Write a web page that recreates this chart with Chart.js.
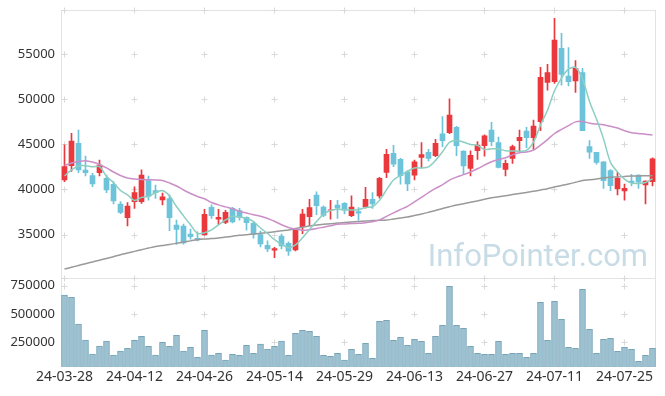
<!DOCTYPE html>
<html>
<head>
<meta charset="utf-8">
<script src="https://cdn.jsdelivr.net/npm/chart.js@4.4.1/dist/chart.umd.min.js"></script>
<style>
  html, body { margin: 0; padding: 0; background: #fff; }
</style>
</head>
<body>
<canvas id="chart" width="665" height="396"></canvas>
<script>
// ===== DATA =====
const dates = [
  '24-03-28','24-03-29','24-04-01','24-04-02','24-04-03','24-04-04','24-04-05','24-04-08','24-04-09','24-04-11',
  '24-04-12','24-04-15','24-04-16','24-04-17','24-04-18','24-04-19','24-04-22','24-04-23','24-04-24','24-04-25',
  '24-04-26','24-04-29','24-04-30','24-05-02','24-05-03','24-05-07','24-05-08','24-05-09','24-05-10','24-05-13',
  '24-05-14','24-05-16','24-05-17','24-05-20','24-05-21','24-05-22','24-05-23','24-05-24','24-05-27','24-05-28',
  '24-05-29','24-05-30','24-05-31','24-06-03','24-06-04','24-06-05','24-06-07','24-06-10','24-06-11','24-06-12',
  '24-06-13','24-06-14','24-06-17','24-06-18','24-06-19','24-06-20','24-06-21','24-06-24','24-06-25','24-06-26',
  '24-06-27','24-06-28','24-07-01','24-07-02','24-07-03','24-07-04','24-07-05','24-07-08','24-07-09','24-07-10',
  '24-07-11','24-07-12','24-07-15','24-07-16','24-07-17','24-07-18','24-07-19','24-07-22','24-07-23','24-07-24',
  '24-07-25','24-07-26','24-07-29','24-07-30','24-07-31'
];

const open = [
  41050,42640,45130,42160,41530,41870,41240,40580,38390,36870,
  38650,38650,40980,39870,38840,38980,36060,35950,35060,34590,
  35000,38020,36700,36360,37900,37650,36910,36260,35000,33800,
  33270,34830,34030,33290,35870,36980,39390,38060,37700,38280,
  38470,37090,37560,38060,38910,39280,41900,44000,43340,41950,
  41600,43550,44110,43750,46160,46290,46900,44250,42330,44300,
  44860,46600,45200,42220,43450,45420,46490,45740,47510,51880,
  51950,55650,52580,52030,52950,44760,44130,43080,42090,40060,
  39830,40940,41610,40500,40870
];
const high = [
  44940,46240,46600,43700,41800,43270,41600,40870,38650,38540,
  40300,42170,41500,40500,39600,39400,36600,36170,35600,35300,
  37800,38300,37800,37700,38020,37920,36980,36420,35400,34300,
  33600,35050,34200,35650,37800,38900,39750,38200,38800,38800,
  38540,39300,38000,40240,39650,41350,44450,44890,43450,42090,
  43270,45200,44450,45570,48090,50040,47000,44300,44300,45300,
  46050,47460,45800,43270,44930,46600,46900,47700,53550,53880,
  58980,57300,55720,54280,53440,45420,44130,43080,42200,41900,
  40600,41680,41620,40950,43500
];
const low = [
  40870,42000,41860,41500,40310,41500,39650,38390,37330,35950,
  37900,38470,38830,39000,38300,35430,33900,33950,34480,34300,
  34950,36800,36100,36200,36300,36600,35500,34600,33630,33100,
  32450,33400,32700,33180,35100,36000,37200,37000,36700,36800,
  37300,36980,36600,37920,37900,39050,41300,42530,40580,39870,
  41050,42400,43160,43640,44760,46200,43760,41700,41500,43340,
  43700,44850,42400,41500,42900,44300,44650,44450,46520,51000,
  51770,51580,51470,50770,46520,43450,42800,40130,39870,39390,
  38830,40390,40130,38390,40400
];
const close = [
  42530,45380,42160,41870,40610,42720,39950,38720,37470,38170,
  39650,41610,39250,39650,39200,36870,35580,34090,34760,34400,
  37250,37090,36920,37470,36400,36910,36320,35050,33970,33400,
  33450,33750,33150,35600,37280,37990,38200,37140,37750,37920,
  37720,38060,37370,38910,38390,41240,43900,42810,41520,40610,
  43080,43880,43440,45130,45420,48250,44860,42620,43800,44930,
  45940,45310,42440,42900,44760,45790,45740,47030,52440,52950,
  56570,52770,51950,53440,46520,44130,43000,40980,40420,41240,
  40130,40760,40800,40940,43400
];
const volume = [
  668000,647000,412000,270000,147000,217000,261000,138000,173000,197000,
  267000,303000,215000,138000,250000,215000,312000,173000,206000,117000,
  356000,138000,153000,94000,144000,135000,223000,153000,235000,191000,
  215000,261000,135000,329000,356000,347000,303000,135000,126000,153000,
  94000,188000,144000,241000,109000,435000,444000,267000,294000,223000,
  276000,259000,153000,303000,400000,745000,400000,374000,215000,153000,
  144000,144000,259000,144000,153000,153000,117000,153000,603000,267000,
  612000,453000,206000,197000,718000,365000,153000,276000,285000,170000,
  206000,188000,82000,135000,197000
];
const ma5 = [
  41500,42165,42610,42640,42510,42548,41462,40774,39894,39406,
  38792,39124,39230,39666,39872,39316,38110,37078,36100,35140,
  35216,35518,36084,36626,37026,36958,36804,36430,35730,35130,
  34438,33924,33544,33870,34646,35554,36444,37242,37672,37800,
  37746,37718,37764,37996,38090,38794,39962,41050,41572,42016,
  42384,42380,42506,43228,44190,45224,45420,45256,44990,44892,
  44430,44520,44484,44304,44270,44240,44326,45244,47152,48790,
  50946,52352,53336,53536,52250,49762,47808,45614,43010,41954,
  41154,40706,40670,40774,41206
];
const ma20 = [
  42660,42940,43110,43200,43050,42775,42390,41940,41550,41280,
  41165,41110,41080,41055,41000,40720,40390,39945,39560,39232,
  38968,38554,38292,38072,37861,37571,37389,37206,37031,36792,
  36482,36089,35784,35582,35486,35542,35673,35825,35975,36151,
  36174,36223,36245,36317,36417,36633,37012,37400,37778,38138,
  38620,39126,39641,40117,40524,41037,41370,41644,41947,42297,
  42708,43071,43324,43524,43842,44070,44162,44373,44919,45536,
  46210,46655,47080,47496,47551,47345,47252,47170,47001,46816,
  46526,46298,46216,46119,46051
];
const ma60 = [
  31175,31375,31575,31775,31965,32165,32350,32550,32775,32950,
  33140,33330,33505,33675,33785,33895,34030,34170,34305,34430,
  34505,34560,34615,34725,34815,34925,34980,35060,35140,35230,
  35315,35415,35505,35670,35805,35950,36060,36140,36205,36280,
  36335,36390,36450,36500,36550,36580,36615,36725,36835,36950,
  37115,37280,37470,37670,37890,38090,38280,38425,38580,38725,
  38910,39080,39200,39310,39435,39555,39680,39800,39945,40090,
  40280,40445,40610,40800,41000,41075,41165,41275,41355,41390,
  41445,41500,41510,41520,41530
];

const priceTicks = [35000, 40000, 45000, 50000, 55000];
const volumeTicks = [250000, 500000, 750000];

// ===== STYLE =====
const UP = '#ea383d';
const DOWN = '#6cc3da';
const candleColors = close.map((c, i) => (c >= open[i] ? UP : DOWN));
const FONT = 'Noto Sans';

// frame, "+" grid marks and watermark, drawn behind the data
const framePlugin = {
  id: 'frame',
  beforeDatasetsDraw(chart) {
    const { ctx, chartArea: a, scales } = chart;
    ctx.save();
    ctx.lineWidth = 1;
    ctx.strokeStyle = '#e3e3e3';
    ctx.strokeRect(Math.round(a.left) + 0.5, Math.round(a.top) + 0.5,
      Math.round(a.right - a.left) - 1, Math.round(a.bottom - a.top) - 1);
    const sep = Math.round(scales.y.bottom) + 0.5;
    ctx.beginPath();
    ctx.moveTo(a.left, sep);
    ctx.lineTo(a.right, sep);
    ctx.stroke();

    const xs = [];
    for (let i = 0; i < dates.length; i += 10) xs.push(Math.round(scales.x.getPixelForValue(i)) - 0.5);
    const ys = [a.top, scales.y.bottom]
      .concat(priceTicks.map(v => scales.y.getPixelForValue(v)))
      .concat(volumeTicks.map(v => scales.y2.getPixelForValue(v)))
      .map(v => Math.round(v) + 0.5);
    ctx.strokeStyle = '#d9d9d9';
    ctx.beginPath();
    xs.forEach(x => ys.forEach(y => {
      ctx.moveTo(x - 3, y); ctx.lineTo(x + 3, y);
      ctx.moveTo(x, y - 3); ctx.lineTo(x, y + 3);
    }));
    ctx.stroke();

    ctx.font = '31px Roboto';
    ctx.fillStyle = '#c8dce6';
    ctx.textAlign = 'right';
    ctx.textBaseline = 'alphabetic';
    ctx.fillText('InfoPointer.com', 648, 266);
    ctx.restore();
  }
};

const lineStyle = { type: 'line', pointRadius: 0, borderWidth: 1.5, tension: 0.3, yAxisID: 'y', fill: false };

function fitY(s) {
  s.width = 61;
  s.paddingTop = 0;
  s.paddingBottom = 0;
}

new Chart(document.getElementById('chart'), {
  data: {
    labels: dates,
    datasets: [
      { ...lineStyle, label: 'MA5', data: ma5, borderColor: '#8ccfc2', order: 0 },
      { ...lineStyle, label: 'MA20', data: ma20, borderColor: '#cb8fc8', order: 0 },
      { ...lineStyle, label: 'MA60', data: ma60, borderColor: '#9a9a9a', order: 0 },
      { type: 'bar', label: 'Body', data: open.map((o, i) => [o, close[i]]), backgroundColor: candleColors,
        barThickness: 5, grouped: false, yAxisID: 'y', order: 1 },
      { type: 'bar', label: 'Wick', data: low.map((l, i) => [l, high[i]]), backgroundColor: candleColors,
        barThickness: 1, grouped: false, yAxisID: 'y', order: 2 },
      { type: 'bar', label: 'Volume', data: volume, backgroundColor: '#9cc1d1', borderColor: '#77a4b8',
        borderWidth: 1, barThickness: 6, grouped: false, yAxisID: 'y2', order: 3 },
    ]
  },
  options: {
    responsive: false,
    animation: false,
    devicePixelRatio: 1,
    layout: { padding: { left: 0, right: 9, top: 10, bottom: 0 } },
    plugins: { legend: { display: false }, tooltip: { enabled: false } },
    scales: {
      x: {
        type: 'category', offset: true,
        grid: { display: false, drawTicks: false }, border: { display: false },
        ticks: {
          autoSkip: false, maxRotation: 0, padding: 2, color: '#333',
          font: { family: FONT, size: 14 },
          callback: (v, i) => (i % 10 === 0 ? dates[i] : null)
        },
        afterFit: s => { s.height = 29; s.paddingLeft = 0; s.paddingRight = 0; }
      },
      y: {
        type: 'linear', position: 'left', stack: 'k', stackWeight: 3, weight: 1,
        min: 30216, max: 59900,
        grid: { display: false, drawTicks: false }, border: { display: false },
        ticks: { padding: 6, color: '#333', font: { family: FONT, size: 13 }, callback: v => String(v) },
        afterBuildTicks: s => { s.ticks = priceTicks.map(v => ({ value: v })); },
        afterFit: fitY
      },
      y2: {
        type: 'linear', position: 'left', stack: 'k', stackWeight: 1, weight: 0,
        min: 32000, max: 820000,
        grid: { display: false, drawTicks: false }, border: { display: false },
        ticks: { padding: 6, color: '#333', font: { family: FONT, size: 13 }, callback: v => String(v) },
        afterBuildTicks: s => { s.ticks = volumeTicks.map(v => ({ value: v })); },
        afterFit: fitY
      }
    }
  },
  plugins: [framePlugin]
});
</script>
</body>
</html>
